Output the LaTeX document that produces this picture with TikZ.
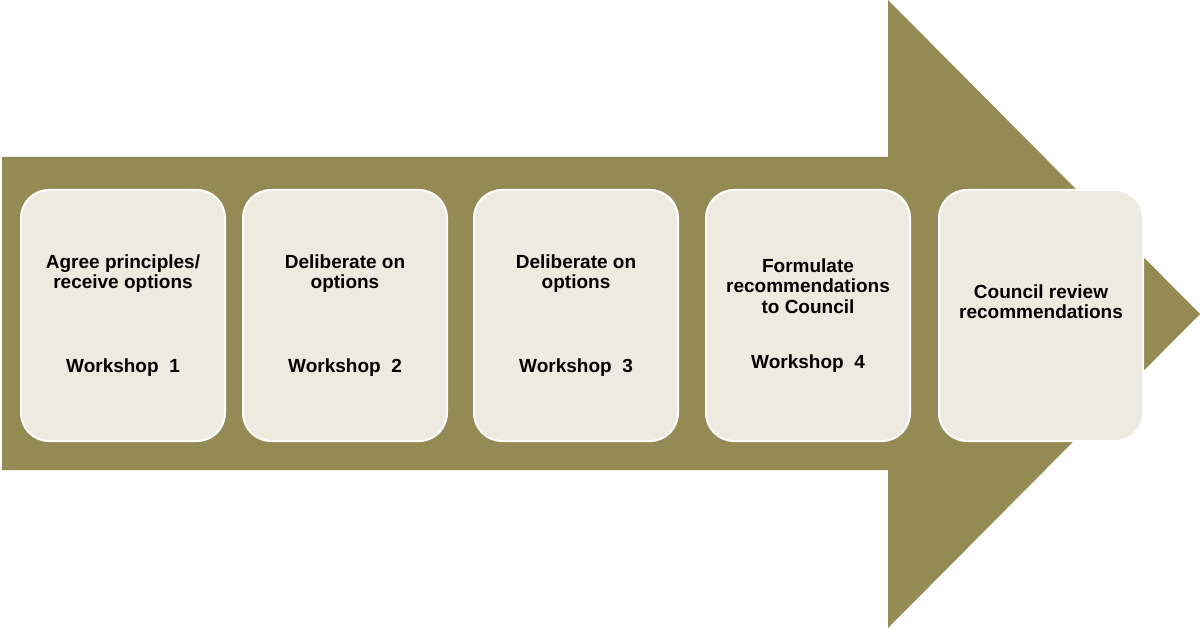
\documentclass[tikz,border=0pt]{standalone}
\usepackage{fontspec}
\setmainfont{Liberation Sans}
\usepackage{tikz}
\usetikzlibrary{positioning}
\definecolor{arrowolive}{HTML}{948A54}
\definecolor{boxtan}{HTML}{EDEBE0}

\begin{document}
\begin{tikzpicture}[x=1pt, y=-1pt,
    stage/.style={draw=white, line width=2pt, fill=boxtan, rounded corners=28pt,
                  minimum width=204pt, minimum height=251pt},
    lbl/.style={align=center, font=\bfseries\fontsize{19}{20.5}\selectfont}]
    \useasboundingbox (0,0) rectangle (1200,628);
    \fill[arrowolive] (2,157) -- (888,157) -- (888,0) -- (1200,314)
          -- (888,628) -- (888,470) -- (2,470) -- cycle;
    \node[stage] (s1) at (123,315.5) {};
    \node[stage, right=16pt of s1] (s2) {};
    \node[stage, right=25pt of s2] (s3) {};
    \node[stage, right=26pt of s3] (s4) {};
    \node[stage, right=27pt of s4] (s5) {};
    \node[lbl] (t1) at (s1) {Agree principles/\\receive options\\[63pt]Workshop\ \ 1};
    \node[lbl] (t2) at (s2) {Deliberate on\\options\\[63pt]Workshop\ \ 2};
    \node[lbl] (t3) at (s3) {Deliberate on\\options\\[63pt]Workshop\ \ 3};
    \node[lbl] (t4) at (s4) {Formulate\\recommendations\\to Council\\[35pt]Workshop\ \ 4};
    \node[lbl, yshift=14pt] (t5) at (s5) {Council review\\recommendations};
\end{tikzpicture}
\end{document}
